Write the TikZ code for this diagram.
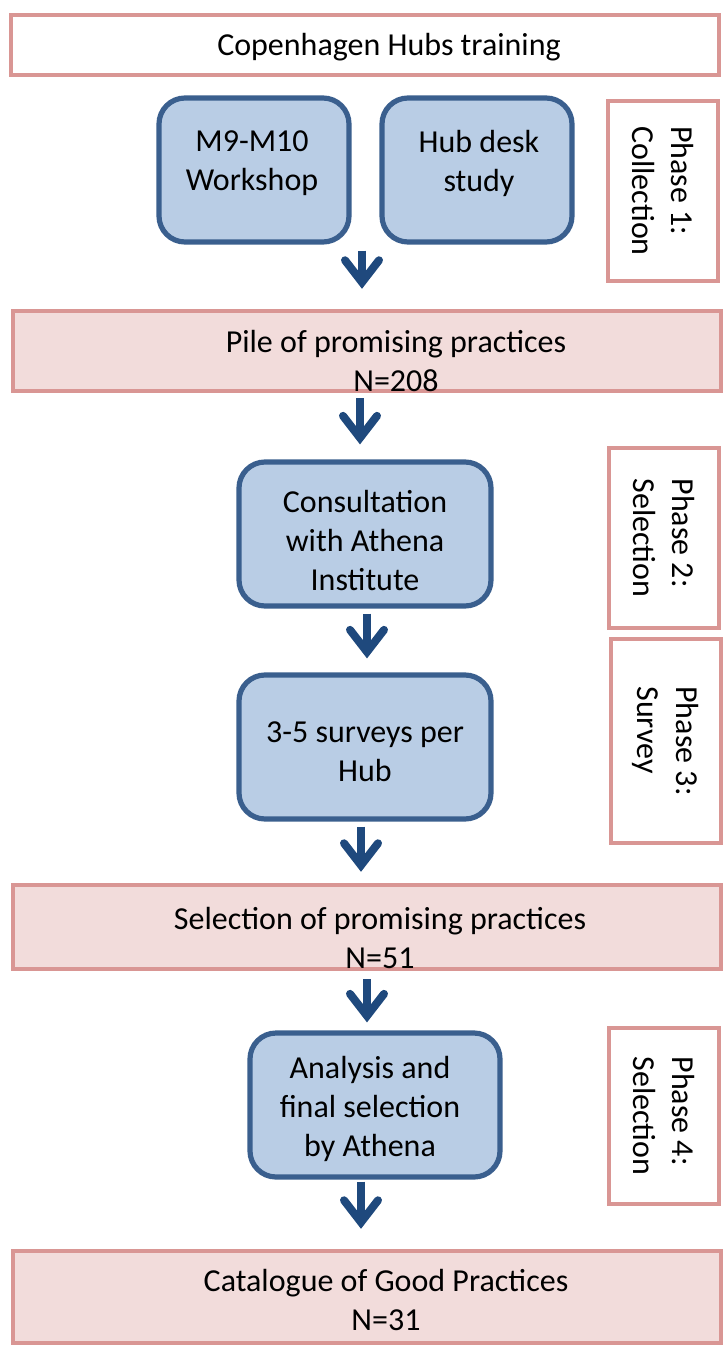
\documentclass[tikz,border=0pt]{standalone}
\usepackage{fontspec}
\setmainfont{Carlito}
\usepackage{tikz}
\usetikzlibrary{arrows.meta, positioning}

\definecolor{pinkline}{HTML}{D99694}
\definecolor{pinkfill}{HTML}{F2DCDB}
\definecolor{bluefill}{HTML}{B9CDE5}
\definecolor{blueline}{HTML}{3A5F8E}
\definecolor{arrowblue}{HTML}{1F497D}

\tikzset{
  stage/.style={draw=pinkline, line width=2.2pt, fill=pinkfill, minimum width=354pt, inner sep=0pt},
  titlebox/.style={stage, fill=white},
  task/.style={draw=blueline, line width=2.6pt, fill=bluefill, rounded corners=13pt, inner sep=0pt, align=center},
  phasebox/.style={draw=pinkline, line width=2.2pt, fill=white, minimum width=55pt, inner sep=0pt},
  phasetext/.style={rotate=-90, align=left},
  flow/.style={draw=arrowblue, line width=4pt,
    -{Straight Barb[length=11pt,width=17pt,line cap=round,line join=miter]}},
}

\begin{document}
\begin{tikzpicture}[x=0.5pt, y=-0.5pt, font=\fontsize{16}{19.5}\selectfont]
\useasboundingbox (0,0) rectangle (727,1354);

% training at the top
\node[titlebox, minimum height=30pt] (train) at (365,45) {};
\node (trainT) at (389,47) {Copenhagen Hubs training};

% phase 1
\node[task, minimum width=95pt, minimum height=72pt] (ws) at (254,170) {};
\node[align=center] (wsT) at (252,163) {M9-M10\\Workshop};
\node[task, minimum width=95pt, minimum height=72pt] (desk) at (477,170) {};
\node[align=center] (deskT) at (479,163) {Hub desk\\study};
\node[phasebox, minimum height=90pt] (ph1) at (663,191) {};
\node[phasetext] (ph1T) at (ph1) {Phase 1:\\Collection};

\node[stage, minimum height=40pt] (pile) at (367,351) {};
\node[align=center] (pileT) at (396,361) {Pile of promising practices\\N=208};

% phase 2
\node[task, minimum width=126pt, minimum height=72pt] (cons) at (365,534) {};
\node[align=center] (consT) at (365,541) {Consultation\\with Athena\\Institute};
\node[phasebox, minimum height=90pt] (ph2) at (664,538) {};
\node[phasetext] (ph2T) at (ph2) {Phase 2:\\Selection};

% phase 3
\node[task, minimum width=126pt, minimum height=72pt] (surv) at (365,747) {};
\node[align=center] (survT) at (365,752) {3-5 surveys per\\Hub};
\node[phasebox, minimum height=102pt] (ph3) at (666,741) {};
\node[phasetext] (ph3T) at (ph3) {Phase 3:\\Survey};

\node[stage, minimum height=42pt] (sel) at (367,927) {};
\node[align=center] (selT) at (380,938) {Selection of promising practices\\N=51};

% phase 4
\node[task, minimum width=125pt, minimum height=72pt] (ana) at (375,1105) {};
\node[align=center] (anaT) at (370,1109) {Analysis and\\final selection\\by Athena};
\node[phasebox, minimum height=88pt] (ph4) at (664,1116) {};
\node[phasetext] (ph4T) at (ph4) {Phase 4:\\Selection};

\node[stage, minimum height=46pt] (cat) at (367,1297) {};
\node[align=center] (catT) at (386,1300) {Catalogue of Good Practices\\N=31};

% arrows
\coordinate (ax1) at (362,0);
\coordinate (ax2) at (360,0);
\coordinate (ax3) at (367,0);
\coordinate (ax4) at (361,0);
\coordinate (ax5) at (367,0);
\coordinate (ax6) at (361,0);
\draw[flow, shorten <=3pt, shorten >=10pt] (ws.south -| ax1) -- (pile.north -| ax1);
\draw[flow, shorten <=2.5pt, shorten >=7.5pt] (pile.south -| ax2) -- (cons.north -| ax2);
\draw[flow, shorten <=2.5pt, shorten >=7pt] (cons.south -| ax3) -- (surv.north -| ax3);
\draw[flow, shorten <=2.5pt, shorten >=5.5pt] (surv.south -| ax4) -- (sel.north -| ax4);
\draw[flow, shorten <=4pt, shorten >=4pt] (sel.south -| ax5) -- (ana.north -| ax5);
\draw[flow, shorten <=1pt, shorten >=10pt] (ana.south -| ax6) -- (cat.north -| ax6);
\end{tikzpicture}
\end{document}
